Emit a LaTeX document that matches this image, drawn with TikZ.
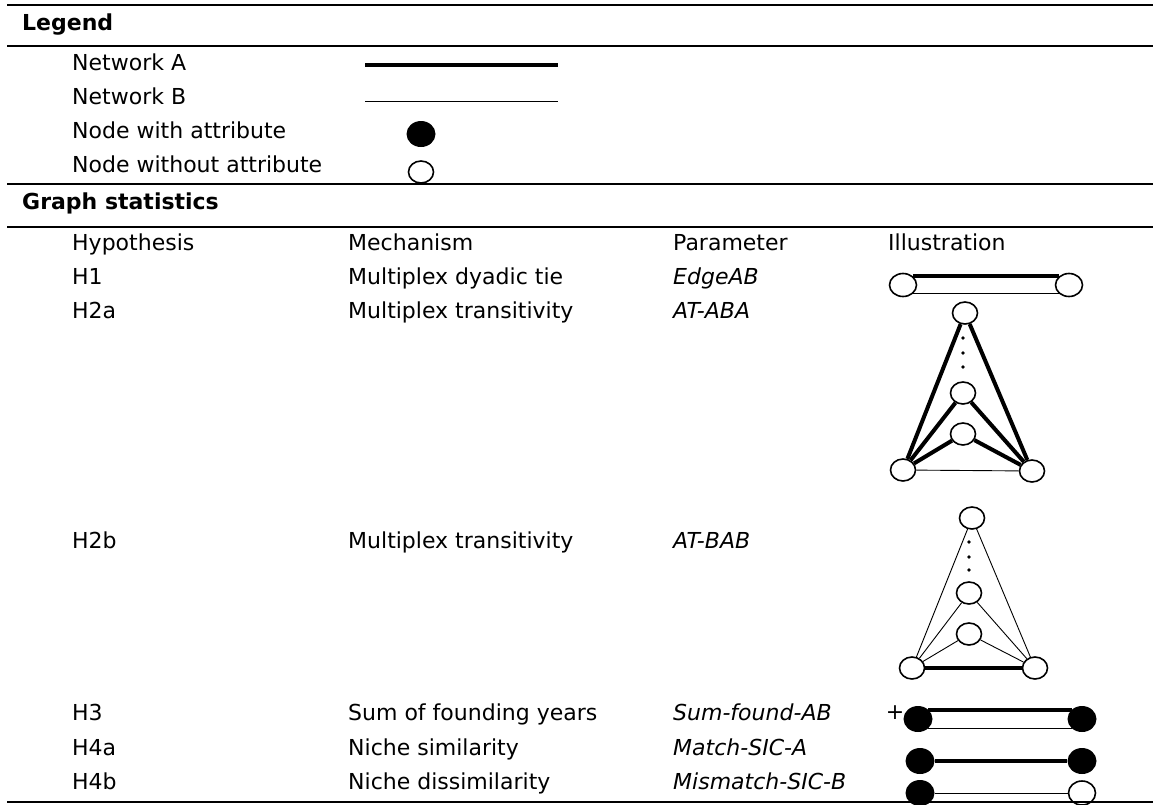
\documentclass[tikz,border=0pt]{standalone}
\usepackage{fontspec}
\setmainfont{DejaVu Sans}
\usetikzlibrary{shapes.geometric}
\newcommand{\tabsize}{\fontsize{22}{26}\selectfont}
\tikzset{
  txt/.style   = {anchor=base west, inner sep=0pt, font=\tabsize},
  head/.style  = {txt, font=\tabsize\bfseries},
  param/.style = {txt, font=\tabsize\itshape},
  rule/.style  = {line width=2.6pt},
  netA/.style  = {line width=4pt},
  netB/.style  = {line width=0.9pt},
  vtx/.style   = {draw, ellipse, line width=1.6pt, fill=white, inner sep=0pt,
                  minimum width=25pt, minimum height=22pt},
  vtxA/.style  = {ellipse, fill=black, inner sep=0pt,
                  minimum width=29pt, minimum height=26pt},
}
\begin{document}
\begin{tikzpicture}[x=1pt,y=-1pt,font=\tabsize]
\useasboundingbox (0,0) rectangle (1153,804);
% legend
\node[head] (legend) at (22,30) {Legend};
\node[txt] (neta) at (72,70) {Network A};
\node[txt] (netb) at (72,104) {Network B};
\node[txt] (withatt) at (72,138) {Node with attribute};
\node[txt] (noatt) at (72,172) {Node without attribute};
\coordinate (la1) at (365,65);
\coordinate (la2) at (558,65);
\coordinate (lb1) at (365,101);
\coordinate (lb2) at (558,101);
\draw[netA] (la1) -- (la2);
\draw[netB] (lb1) -- (lb2);
\node[vtxA] (lfull) at (421,134) {};
\node[vtx] (lempty) at (421,172) {};
% table
\node[head] (gstat) at (22,209) {Graph statistics};
\node[txt] (hyp) at (72,250) {Hypothesis};
\node[txt] (mech) at (348,250) {Mechanism};
\node[txt] (par) at (673,250) {Parameter};
\node[txt] (illu) at (888,250) {Illustration};
\node[txt] at (72,284) {H1};
\node[txt] at (348,284) {Multiplex dyadic tie};
\node[param] at (673,284) {EdgeAB};
\node[txt] at (72,318) {H2a};
\node[txt] at (348,318) {Multiplex transitivity};
\node[param] at (673,318) {AT-ABA};
\node[txt] at (72,548) {H2b};
\node[txt] at (348,548) {Multiplex transitivity};
\node[param] at (673,548) {AT-BAB};
\node[txt] at (72,720) {H3};
\node[txt] at (348,720) {Sum of founding years};
\node[param] at (673,720) {Sum-found-AB};
\node[txt] at (72,755) {H4a};
\node[txt] at (348,755) {Niche similarity};
\node[param] at (673,755) {Match-SIC-A};
\node[txt] at (72,789) {H4b};
\node[txt] at (348,789) {Niche dissimilarity};
\node[param] at (673,789) {Mismatch-SIC-B};
% H1
\node[vtx, minimum width=27pt, minimum height=23pt] (h1l) at (903,285) {};
\node[vtx, minimum width=27pt, minimum height=23pt] (h1r) at (1069,285) {};
\draw[netA] (h1l.north east) -- (h1r.north west);
\draw[netB] (h1l.south east) -- (h1r.south west);
% H2a
\node[vtx] (at) at (965,313) {};
\node[vtx] (am1) at (963,393) {};
\node[vtx] (am2) at (963,434) {};
\node[vtx] (abl) at (903,470) {};
\node[vtx] (abr) at (1032,471) {};
\foreach \n in {at,am1,am2} {
  \draw[netA] (\n) -- (abl);
  \draw[netA] (\n) -- (abr);
}
\draw[netB] (abl) -- (abr);
\foreach \y in {338,353,367}
  \fill (963,\y) circle (1.8pt);
% H2b
\node[vtx] (bt) at (972,518) {};
\node[vtx] (bm1) at (969,593) {};
\node[vtx] (bm2) at (969,634) {};
\node[vtx] (bbl) at (912,668) {};
\node[vtx] (bbr) at (1035,668) {};
\foreach \n in {bt,bm1,bm2} {
  \draw[netB] (\n) -- (bbl);
  \draw[netB] (\n) -- (bbr);
}
\draw[netA] (bbl) -- (bbr);
\foreach \y in {542,557,570}
  \fill (969,\y) circle (1.8pt);
% H3, H4a, H4b
\node (plus) at (895,713) {+};
\node[vtxA] (h3l) at (918,719) {};
\node[vtxA] (h3r) at (1082,719) {};
\draw[netA] (h3l.north east) -- (h3r.north west);
\draw[netB] (h3l.south east) -- (h3r.south west);
\node[vtxA] (h4al) at (920,761) {};
\node[vtxA] (h4ar) at (1082,761) {};
\draw[netA] (h4al) -- (h4ar);
\node[vtxA] (h4bl) at (920,793) {};
\node[vtx, minimum width=27pt, minimum height=24pt] (h4br) at (1082,793) {};
\draw[netB] (h4bl) -- (h4br);
% rules
\foreach \y in {5,46,184,227,802}
  \draw[rule] (7,\y) -- (1153,\y);
\end{tikzpicture}
\end{document}
